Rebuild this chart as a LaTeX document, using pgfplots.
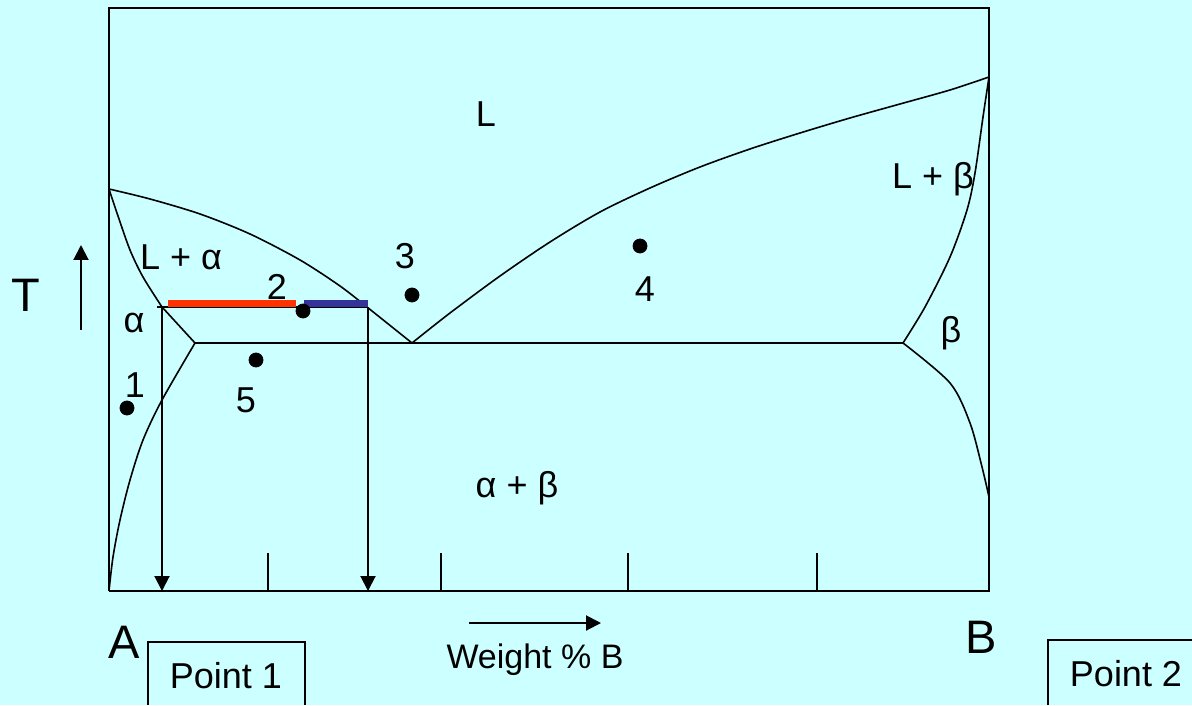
\documentclass[border=0pt]{standalone}
\usepackage{pgfplots}
\pgfplotsset{compat=1.18}
\usepackage{fontspec}
\setmainfont{Liberation Sans}
\usetikzlibrary{arrows.meta}
\definecolor{bg}{HTML}{CCFFFF}
\definecolor{tiered}{HTML}{FF3300}
\definecolor{tieblue}{HTML}{333399}
\newcommand{\lbl}{\fontsize{18}{20}\selectfont}
\newcommand{\biglbl}{\fontsize{23.5}{26}\selectfont}
\begin{document}
\begin{tikzpicture}
\begin{axis}[scale only axis, width=440pt, height=291.5pt,
  xmin=109, xmax=989, ymin=114, ymax=697, clip=false, hide axis]
% page background
\fill[bg] (axis cs:0,0) rectangle (axis cs:1192,705);
\coordinate (bl) at (axis cs:0,0);
\coordinate (tr) at (axis cs:1192,705);
% frame
\addplot[black, line width=1pt, no marks] coordinates {(109,114) (989,114) (989,697) (109,697) (109,114)};
% liquidus, left
\addplot[black, line width=0.8pt, no marks, smooth, tension=0.5] coordinates {
  (109,516) (150,506) (200,491) (250,471) (300,445) (340,419) (367,398)};
\addplot[black, line width=0.8pt, no marks] coordinates {(367,398) (412,362)};
% liquidus, right
\addplot[black, line width=0.8pt, no marks, smooth, tension=0.5] coordinates {
  (412,362) (450,392) (500,429) (550,463) (600,493) (650,517) (700,538)
  (750,556) (800,572) (850,587) (900,601) (950,615) (989,628)};
% solidus alpha
\addplot[black, line width=0.8pt, no marks, smooth, tension=0.5] coordinates {
  (109,516) (118,489) (130,455) (143,428) (162,398)};
\addplot[black, line width=0.8pt, no marks] coordinates {(162,398) (195,362)};
% solvus alpha
\addplot[black, line width=0.8pt, no marks, smooth, tension=0.5] coordinates {
  (195,362) (162,305) (143,265) (130,225) (120,185) (113,148) (109,114)};
% eutectic line
\addplot[black, line width=0.8pt, no marks] coordinates {(195,362) (903,362)};
% solidus beta
\addplot[black, line width=0.8pt, no marks, smooth, tension=0.5] coordinates {
  (903,362) (925,398) (950,448) (967,495) (975,532) (983,588) (989,628)};
% solvus beta
\addplot[black, line width=0.8pt, no marks, smooth, tension=0.5] coordinates {
  (903,362) (950,322) (970,282) (982,238) (989,208)};
% tie line and arrows
\addplot[black, line width=0.8pt, no marks] coordinates {(157,398) (368,398)};
\addplot[black, line width=1pt, no marks, -{Triangle[width=7.5pt,length=7.5pt]}] coordinates {(162,398) (162,114)};
\addplot[black, line width=1pt, no marks, -{Triangle[width=7.5pt,length=7.5pt]}] coordinates {(368,398) (368,114)};
\addplot[tiered, line width=3.5pt, no marks] coordinates {(168,401) (296,401)};
\addplot[tieblue, line width=3.5pt, no marks] coordinates {(304,401) (368,401)};
% ticks on the composition axis
\addplot[black, line width=0.8pt, no marks] coordinates {(268,114) (268,152)};
\addplot[black, line width=0.8pt, no marks] coordinates {(441,114) (441,152)};
\addplot[black, line width=0.8pt, no marks] coordinates {(628,114) (628,152)};
\addplot[black, line width=0.8pt, no marks] coordinates {(817,114) (817,152)};
% state points
\addplot[only marks, mark=*, mark size=3.5pt, black] coordinates {
  (127,297) (303,394) (412,410) (640,459) (256,345)};
% labels
\node[anchor=base, font=\lbl] at (axis cs:135,308) {1};
\node[anchor=base, font=\lbl] at (axis cs:277,405) {2};
\node[anchor=base, font=\lbl] at (axis cs:405,436) {3};
\node[anchor=base, font=\lbl] at (axis cs:645,403) {4};
\node[anchor=base, font=\lbl] at (axis cs:246,293) {5};
\node[anchor=base, font=\lbl] at (axis cs:486,578) {L};
\node[anchor=base, font=\lbl] at (axis cs:181,435) {L + α};
\node[anchor=base, font=\lbl] at (axis cs:134,372) {α};
\node[anchor=base, font=\lbl] at (axis cs:933,516) {L + β};
\node[anchor=base, font=\lbl] at (axis cs:951,362) {β};
\node[anchor=base, font=\lbl] at (axis cs:517,208) {α + β};
% temperature axis
\node[anchor=base, font=\biglbl] at (axis cs:26,393) {T};
\addplot[black, line width=1pt, no marks, -{Triangle[width=7.5pt,length=7.5pt]}] coordinates {(81,375) (81,460)};
% composition axis
\node[anchor=base, font=\biglbl] at (axis cs:124,47) {A};
\node[anchor=base, font=\biglbl] at (axis cs:981,52) {B};
\node[anchor=base, font=\fontsize{17}{20}\selectfont] at (axis cs:535,37) {Weight \% B};
\addplot[black, line width=1pt, no marks, -{Triangle[width=7.5pt,length=7.5pt]}] coordinates {(469,82) (601,82)};
% point boxes
\addplot[black, line width=0.8pt, no marks] coordinates {(148,0) (148,63) (305,63) (305,0)};
\node[anchor=base, font=\lbl] at (axis cs:226,17) {Point 1};
\addplot[black, line width=0.8pt, no marks] coordinates {(1048,0) (1048,65) (1192,65)};
\node[anchor=base, font=\lbl] at (axis cs:1126,19) {Point 2};
\end{axis}
\pgfresetboundingbox
\path (bl) rectangle (tr);
\end{tikzpicture}
\end{document}
